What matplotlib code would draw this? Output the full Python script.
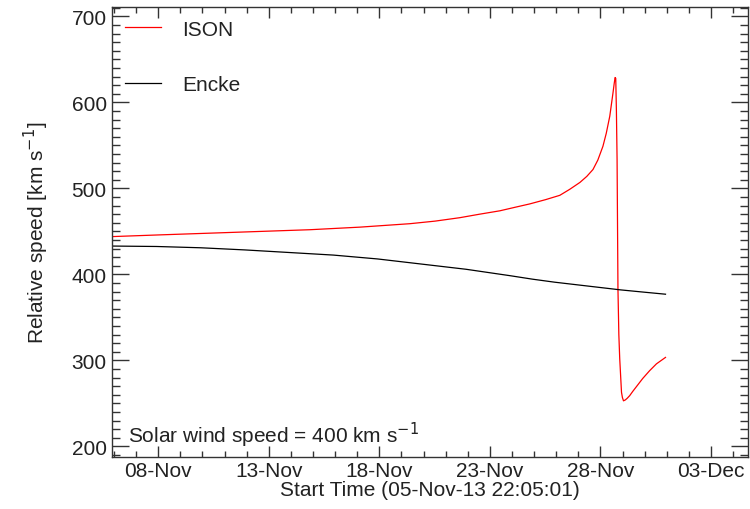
import numpy as np
import matplotlib
matplotlib.use("Agg")
import matplotlib.pyplot as plt
import matplotlib.dates as mdates
from matplotlib.ticker import MultipleLocator
from datetime import datetime, timedelta

plt.rcParams['font.family'] = ['Liberation Sans', 'DejaVu Sans']

# --- data (days since start time, speed in km/s) ---
start = datetime(2013, 11, 5, 22, 5, 1)

ison_days = [0.0, 2.16, 4.42, 6.68, 8.94, 11.2, 13.46, 14.6, 15.72, 16.6,
             17.53, 18.2, 18.88, 19.6, 20.24, 20.69, 21.15, 21.46, 21.74,
             21.96, 22.19, 22.34, 22.5, 22.65, 22.7, 22.74, 22.77, 22.8, 22.83,
             22.87, 22.91, 22.95, 23.03, 23.07, 23.12, 23.2, 23.29, 23.4,
             23.54, 23.72, 23.99, 24.3, 24.61, 25.02]
ison_speed = [444, 446, 448, 450, 452, 455, 459, 462, 466, 470,
              474, 478, 482, 487, 492, 499, 507, 514, 522,
              533, 549, 564, 584, 612, 622, 629, 628, 590, 534,
              383, 330, 302, 263, 257, 253, 254, 256, 259,
              264, 270, 279, 288, 296, 303.5]

encke_days = [0, 2, 4, 6, 8, 10, 12, 14, 16, 18, 19, 20, 21, 22, 23, 24, 25.02]
encke_speed = [433, 432.5, 431, 428.5, 425.5, 422.5, 418, 412, 406, 398.5,
               394.5, 391, 388, 385, 382, 379.5, 377]

x_end_days = 28.74
y_range = (188, 711)


def to_dates(days):
    return [start + timedelta(days=d) for d in days]


fig = plt.figure(figsize=(7.5, 5.1), dpi=100)
ax = fig.add_axes([0.1497, 0.1025, 0.997 - 0.1497, 0.9843 - 0.1025])

ax.plot(to_dates(ison_days), ison_speed, color='#ff0000', lw=0.9, label='ISON')
ax.plot(to_dates(encke_days), encke_speed, color='black', lw=0.9, label='Encke')

ax.set_xlim(start, start + timedelta(days=x_end_days))
ax.set_ylim(*y_range)

# x ticks every 5 days from 08-Nov, minor each day
ax.xaxis.set_major_locator(mdates.DayLocator(bymonthday=[3, 8, 13, 18, 23, 28]))
ax.xaxis.set_minor_locator(mdates.DayLocator())
ax.xaxis.set_major_formatter(mdates.DateFormatter('%d-%b'))
ax.yaxis.set_major_locator(MultipleLocator(100))
ax.yaxis.set_minor_locator(MultipleLocator(10))

txt_color = '#222222'
ax.tick_params(axis='both', which='both', direction='in', top=True, right=True,
               colors='#333333', labelcolor=txt_color, labelsize=15, width=1.0)
ax.tick_params(axis='y', which='major', length=12, pad=4)
ax.tick_params(axis='y', which='minor', length=6)
ax.tick_params(axis='x', which='major', length=8, pad=3)
ax.tick_params(axis='x', which='minor', length=4)
for sp in ax.spines.values():
    sp.set_color('#333333')
    sp.set_linewidth(1.0)

ax.set_xlabel('Start Time (05-Nov-13 22:05:01)', fontsize=15, color=txt_color, labelpad=0)
ax.set_ylabel('Relative speed [km s$^{-1}$]', fontsize=15, color=txt_color, labelpad=15)

ax.text(0.025, 0.05, 'Solar wind speed = 400 km s$^{-1}$', transform=ax.transAxes,
        fontsize=15, color=txt_color, ha='left', va='center')

leg = ax.legend(loc='upper left', frameon=False, fontsize=15, handlelength=1.75,
                labelspacing=1.75, handletextpad=1.0, borderaxespad=0.2,
                bbox_to_anchor=(0.0, 1.0))
for t in leg.get_texts():
    t.set_color(txt_color)

fig.savefig('out.png', dpi=100)
